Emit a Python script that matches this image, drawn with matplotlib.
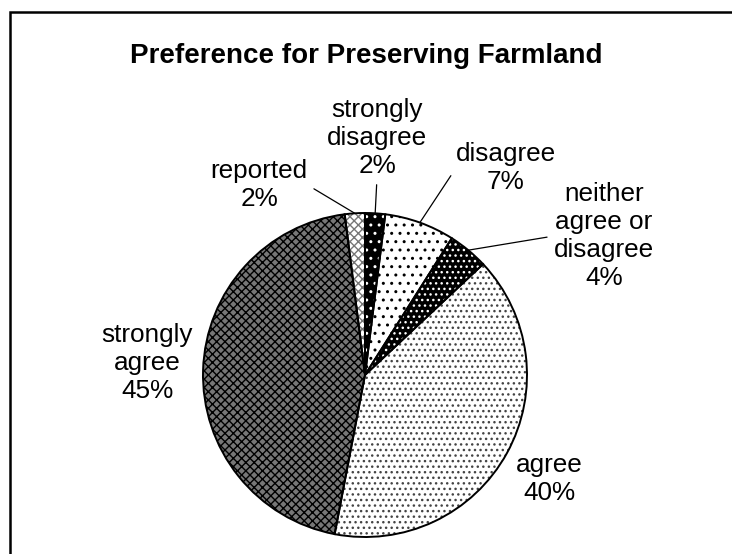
import numpy as np
import matplotlib
matplotlib.use("Agg")
from matplotlib import pyplot as plt
from matplotlib.patches import Rectangle

# Data (clockwise from 12 o'clock, like the Excel chart)
categories = ["strongly\ndisagree", "disagree", "neither\nagree or\ndisagree",
              "agree", "strongly\nagree", "reported"]
percents = [2, 7, 4, 40, 45, 2]
title = "Preference for Preserving Farmland"

# Layout (pixels, origin top-left)
W, H = 732, 554
CENTER = (365, 375)
RADIUS = 162
label_pos = [(377, 138), (506, 168), (604, 236), (549, 479), (147, 363), (259, 185)]
leader = [True, True, True, False, False, True]
relpos = [(0.5, 0.0), (0.0, 0.5), (0.0, 0.5), None, None, (1.0, 0.5)]
LABEL_FS = 18.8

# pattern fills: (face, hatch, hatch colour)
fills = [
    ("black", "..", "white"),
    ("white", "..", "black"),
    ("black", "...", "white"),
    ("white", "...", "#444444"),
    ("#777777", "xxxx", "black"),
    ("white", "xxxx", "#777777"),
]

plt.rcParams["font.family"] = ["Liberation Sans", "DejaVu Sans"]
plt.rcParams["hatch.linewidth"] = 1.0

fig = plt.figure(figsize=(W / 100, H / 100), dpi=100)
ax = fig.add_axes([0, 0, 1, 1])

cx, cy = CENTER[0], H - CENTER[1]

wedges, _ = ax.pie(percents, center=(cx, cy), radius=RADIUS, startangle=90,
                   counterclock=False, wedgeprops=dict(linewidth=0))
for w, (face, hatch, hcol) in zip(wedges, fills):
    w.set_facecolor(face)
    w.set_hatch(hatch)
    w.set_edgecolor(hcol)
    w.set_linewidth(0)

# outlines on top
outl, _ = ax.pie(percents, center=(cx, cy), radius=RADIUS, startangle=90,
                 counterclock=False,
                 wedgeprops=dict(fill=False, edgecolor="black", linewidth=1.4))

for w, name, p, (lx, ly), has_line, rp in zip(wedges, categories, percents,
                                               label_pos, leader, relpos):
    txt = f"{name}\n{p}%"
    mid = np.radians((w.theta1 + w.theta2) / 2)
    px = cx + RADIUS * np.cos(mid)
    py = cy + RADIUS * np.sin(mid)
    if has_line:
        ax.annotate(txt, xy=(px, py), xytext=(lx, H - ly), ha="center", va="center",
                    fontsize=LABEL_FS, linespacing=1.2,
                    arrowprops=dict(arrowstyle="-", color="black", lw=0.9,
                                    shrinkA=3, shrinkB=0, relpos=rp))
    else:
        ax.text(lx, H - ly, txt, ha="center", va="center", fontsize=LABEL_FS,
                linespacing=1.2)

ax.text(366, H - 56, title, ha="center", va="center", fontsize=20,
        fontweight="bold")

# chart area frame (cropped on the right and bottom)
ax.add_patch(Rectangle((10, -20), 800, H - 12 + 20, fill=False,
                       edgecolor="black", linewidth=1.8))

ax.set_xlim(0, W)
ax.set_ylim(0, H)
ax.set_aspect("equal")
ax.axis("off")

fig.savefig("out.png", dpi=100)
